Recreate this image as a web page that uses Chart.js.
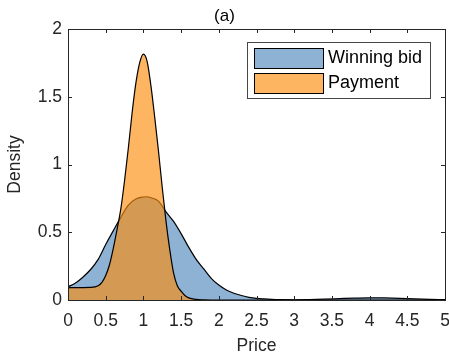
<!DOCTYPE html>
<html>
<head>
<meta charset="utf-8">
<script src="https://cdn.jsdelivr.net/npm/chart.js@4/dist/chart.umd.min.js"></script>
<style>
  html, body { margin: 0; padding: 0; background: #fff; }
  #wrap { width: 449px; height: 357px; }
</style>
</head>
<body>
<div id="wrap"><canvas id="densityChart"></canvas></div>
<script>
// values
var bidX = [0, 0.1, 0.2, 0.3, 0.4, 0.5, 0.6, 0.7, 0.8, 0.9, 1.0, 1.05, 1.1, 1.2, 1.3, 1.4, 1.5, 1.6, 1.7, 1.8, 1.9, 2.0, 2.1, 2.2, 2.3, 2.4, 2.5, 2.6, 2.7, 2.8, 3.0, 3.2, 3.4, 3.6, 3.8, 4.0, 4.2, 4.4, 4.6, 4.8, 5.0];
var bidY = [0.098, 0.125, 0.17, 0.225, 0.3, 0.41, 0.51, 0.61, 0.7, 0.745, 0.76, 0.762, 0.755, 0.73, 0.65, 0.58, 0.49, 0.39, 0.3, 0.23, 0.16, 0.11, 0.074, 0.05, 0.033, 0.02, 0.012, 0.008, 0.005, 0.003, 0.002, 0.003, 0.006, 0.01, 0.014, 0.016, 0.015, 0.012, 0.008, 0.005, 0.003];

var payX = [0, 0.1, 0.2, 0.3, 0.4, 0.45, 0.5, 0.55, 0.6, 0.65, 0.7, 0.75, 0.8, 0.85, 0.9, 0.95, 1.0, 1.05, 1.1, 1.15, 1.2, 1.25, 1.3, 1.35, 1.4, 1.45, 1.5, 1.55, 1.6, 1.7, 1.8, 1.9, 2.0, 3.0, 4.0, 5.0];
var payY = [0.09, 0.092, 0.092, 0.093, 0.105, 0.13, 0.18, 0.26, 0.38, 0.52, 0.67, 0.88, 1.12, 1.38, 1.6, 1.75, 1.815, 1.76, 1.58, 1.35, 1.1, 0.83, 0.58, 0.37, 0.2, 0.105, 0.065, 0.033, 0.016, 0.004, 0.001, 0, 0, 0, 0, 0];

var seriesNames = ["Winning bid", "Payment"];
var xTicks = [0, 0.5, 1, 1.5, 2, 2.5, 3, 3.5, 4, 4.5, 5];
var yTicks = [0, 0.5, 1, 1.5, 2];
var titleText = "(a)";
var xLabel = "Price";
var yLabel = "Density";

var FONT = "'Liberation Sans', Arial, Helvetica, sans-serif";
var AXIS = "rgb(38,38,38)";

function toPoints(xs, ys) {
	var pts = [];
	for (var i = 0; i < xs.length; i++) {
		pts.push({x: xs[i], y: ys[i]});
	}
	return pts;
}

// matlab style box with inward ticks on all four sides
var boxTicks = {
	id: 'boxTicks',
	afterDatasetsDraw: function(chart) {
		var ctx = chart.ctx;
		var a = chart.chartArea;
		var xs = chart.scales.x, ys = chart.scales.y;
		var len = 4;
		ctx.save();
		ctx.strokeStyle = AXIS;
		ctx.lineWidth = 1;
		ctx.beginPath();
		xTicks.forEach(function(v) {
			var px = Math.round(xs.getPixelForValue(v)) + 0.5;
			ctx.moveTo(px, a.bottom); ctx.lineTo(px, a.bottom - len);
			ctx.moveTo(px, a.top); ctx.lineTo(px, a.top + len);
		});
		yTicks.forEach(function(v) {
			var py = Math.round(ys.getPixelForValue(v)) + 0.5;
			ctx.moveTo(a.left, py); ctx.lineTo(a.left + len, py);
			ctx.moveTo(a.right, py); ctx.lineTo(a.right - len, py);
		});
		ctx.stroke();
		ctx.strokeRect(Math.round(a.left) + 0.5, Math.round(a.top) + 0.5, Math.round(a.right - a.left), Math.round(a.bottom - a.top));
		ctx.restore();
	}
};

// legend box inside the axes, top right
var boxLegend = {
	id: 'boxLegend',
	afterDraw: function(chart) {
		var ctx = chart.ctx;
		var a = chart.chartArea;
		var bx = a.right - 198, by = a.top + 13, bw = 183, bh = 56;
		ctx.save();
		ctx.fillStyle = '#fff';
		ctx.fillRect(bx, by, bw, bh);
		ctx.strokeStyle = 'rgb(70,70,70)';
		ctx.lineWidth = 1;
		ctx.strokeRect(bx + 0.5, by + 0.5, bw, bh);
		ctx.font = '18px ' + FONT;
		ctx.textBaseline = 'middle';
		ctx.textAlign = 'left';
		chart.data.datasets.forEach(function(ds, i) {
			var py = by + 6 + i * 25;
			ctx.fillStyle = ds.backgroundColor;
			ctx.fillRect(bx + 7, py, 69, 20);
			ctx.strokeStyle = '#000';
			ctx.strokeRect(bx + 7.5, py + 0.5, 69, 20);
			ctx.fillStyle = '#000';
			ctx.fillText(ds.label, bx + 81, py + 10.5);
		});
		ctx.restore();
	}
};

function loadChart() {
	var ctx = document.getElementById("densityChart");
	var myChart = new Chart(ctx, {
		type: 'line',
		data: {
			datasets: [{
				label: seriesNames[0],
				data: toPoints(bidX, bidY),
				backgroundColor: 'rgba(27,101,169,0.5)',
				borderColor: '#000',
				borderWidth: 1.2,
				fill: 'origin',
				pointRadius: 0,
				cubicInterpolationMode: 'monotone',
				order: 2
			}, {
				label: seriesNames[1],
				data: toPoints(payX, payY),
				backgroundColor: 'rgba(252,142,14,0.65)',
				borderColor: '#000',
				borderWidth: 1.2,
				fill: 'origin',
				pointRadius: 0,
				cubicInterpolationMode: 'monotone',
				order: 1
			}]
		},
		options: {
			responsive: true,
			maintainAspectRatio: false,
			animation: false,
			layout: { padding: { left: 0, right: 0, top: 0, bottom: 0 } },
			plugins: {
				legend: { display: false },
				tooltip: { enabled: false },
				title: {
					display: true,
					text: titleText,
					color: '#000',
					font: { family: FONT, size: 17, weight: 'normal' },
					padding: { top: 6, bottom: 2.6 }
				}
			},
			scales: {
				x: {
					type: 'linear',
					min: 0,
					max: 5,
					afterBuildTicks: function(scale) {
						scale.ticks = xTicks.map(function(v) { return {value: v}; });
					},
					afterFit: function(scale) {
						scale.height = 57;
						scale.paddingLeft = 0;
						scale.paddingRight = 4;
					},
					grid: { display: false, drawTicks: false },
					border: { display: false },
					ticks: {
						color: AXIS,
						padding: 11,
						maxRotation: 0,
						autoSkip: false,
						font: { family: FONT, size: 17.5 },
						callback: function(v) { return String(v); }
					},
					title: {
						display: true,
						text: xLabel,
						color: AXIS,
						font: { family: FONT, size: 17.5 },
						padding: { top: 0, bottom: 0 }
					}
				},
				y: {
					type: 'linear',
					min: 0,
					max: 2,
					afterBuildTicks: function(scale) {
						scale.ticks = yTicks.map(function(v) { return {value: v}; });
					},
					afterFit: function(scale) {
						scale.width = 68;
					},
					grid: { display: false, drawTicks: false },
					border: { display: false },
					ticks: {
						color: AXIS,
						padding: 6,
						autoSkip: false,
						font: { family: FONT, size: 17.5 },
						callback: function(v) { return String(v); }
					},
					title: {
						display: true,
						text: yLabel,
						color: AXIS,
						font: { family: FONT, size: 17.5 },
						padding: { top: 5, bottom: 0 }
					}
				}
			}
		},
		plugins: [boxTicks, boxLegend]
	});
}

loadChart();
</script>
</body>
</html>
